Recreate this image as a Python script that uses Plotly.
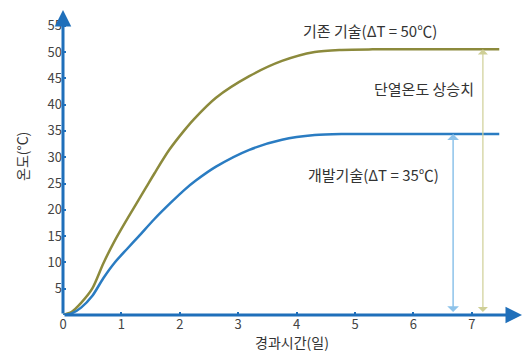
import plotly.graph_objects as go

# ---- data ----
days_existing = [0, 0.15, 0.31, 0.5, 0.69, 0.88, 1.07, 1.28, 1.42, 1.57, 1.82, 2.07, 2.24, 2.62,
                 3.19, 3.75, 4.31, 4.77, 5.3, 6.0, 7.0, 7.47]
temp_existing = [0, 0.6, 2.3, 5.0, 9.8, 14.0, 17.7, 21.6, 24.2, 27.0, 31.4, 35.0, 37.2, 41.3,
                 45.4, 48.3, 50.0, 50.4, 50.5, 50.5, 50.5, 50.5]

days_new = [0, 0.15, 0.31, 0.5, 0.69, 0.88, 1.1, 1.3, 1.57, 1.85, 2.07, 2.28, 2.62,
            3.19, 3.75, 4.31, 4.77, 5.3, 6.0, 7.0, 7.47]
temp_new = [0, 0.3, 1.4, 3.6, 7.0, 9.9, 12.6, 15.0, 18.3, 21.4, 23.7, 25.6, 28.2,
            31.4, 33.3, 34.2, 34.4, 34.4, 34.4, 34.4, 34.4]

x_ticks = [0, 1, 2, 3, 4, 5, 6, 7]
y_ticks = [5, 10, 15, 20, 25, 30, 35, 40, 45, 50, 55]

label_existing = "기존 기술(ΔT = 50℃)"
label_new = "개발기술(ΔT = 35℃)"
label_rise = "단열온도 상승치"
x_title = "경과시간(일)"
y_title = "온도(°C)"

arrow_x_new = 6.68
arrow_x_existing = 7.19
plateau_new = 34.4
plateau_existing = 50.5

# ---- style ----
OLIVE = "#8c8a3c"
BLUE = "#2a7cc2"
AXIS = "#1f6fba"
LIGHT_BLUE = "#8ec3ea"
LIGHT_OLIVE = "#cfcf96"
FONT = "Noto Sans CJK KR"
TXT = "#333333"

W, H = 524, 353
L, R, T, B = 63, 5, 10, 38
PX_X = 58.4
PX_Y = 5.26
xmax = (W - L - R) / PX_X
ymax = (H - T - B) / PX_Y

fig = go.Figure()
fig.add_trace(go.Scatter(x=days_existing, y=temp_existing, mode="lines",
                         line=dict(color=OLIVE, width=2.5, shape="spline", smoothing=0.8),
                         hoverinfo="skip", showlegend=False, cliponaxis=False))
fig.add_trace(go.Scatter(x=days_new, y=temp_new, mode="lines",
                         line=dict(color=BLUE, width=2.5, shape="spline", smoothing=0.8),
                         hoverinfo="skip", showlegend=False, cliponaxis=False))

ann = []
# axes with arrowheads
ann.append(dict(x=(W - 2 - L) / PX_X, y=0, ax=0, ay=0, xref="x", yref="y", axref="x", ayref="y",
                text="", showarrow=True, arrowhead=2, arrowsize=1.1, arrowwidth=3,
                arrowcolor=AXIS, standoff=0))
ann.append(dict(x=0, y=ymax, ax=0, ay=0, xref="x", yref="y", axref="x", ayref="y",
                text="", showarrow=True, arrowhead=2, arrowsize=1.1, arrowwidth=3,
                arrowcolor=AXIS, standoff=0))
# double arrows
ann.append(dict(x=arrow_x_new, y=plateau_new, ax=arrow_x_new, ay=0, xref="x", yref="y",
                axref="x", ayref="y", text="", showarrow=True, arrowhead=1, startarrowhead=1,
                arrowside="end+start", arrowsize=1.3, startarrowsize=1.3, arrowwidth=1.5,
                arrowcolor=LIGHT_BLUE, standoff=0, startstandoff=1.5))
ann.append(dict(x=arrow_x_existing, y=plateau_existing, ax=arrow_x_existing, ay=0, xref="x", yref="y",
                axref="x", ayref="y", text="", showarrow=True, arrowhead=1, startarrowhead=1,
                arrowside="end+start", arrowsize=1.4, startarrowsize=1.4, arrowwidth=1.2,
                arrowcolor=LIGHT_OLIVE, standoff=0, startstandoff=1.5))
# labels
ann.append(dict(x=5.26, y=54.0, xref="x", yref="y", text=label_existing, showarrow=False,
                xanchor="center", yanchor="middle",
                font=dict(family=FONT, size=15, color=TXT)))
ann.append(dict(x=6.18, y=43.0, xref="x", yref="y", text=label_rise, showarrow=False,
                xanchor="center", yanchor="middle",
                font=dict(family=FONT, size=15, color=TXT)))
ann.append(dict(x=5.31, y=26.7, xref="x", yref="y", text=label_new, showarrow=False,
                xanchor="center", yanchor="middle",
                font=dict(family=FONT, size=15, color=TXT)))
# axis titles
ann.append(dict(x=(292 - L) / (W - L - R), y=-(342 - (H - B)) / (H - T - B), xref="paper", yref="paper",
                xanchor="center", yanchor="middle",
                text=x_title, showarrow=False, font=dict(family=FONT, size=14, color=TXT)))
ann.append(dict(x=-(L - 22) / (W - L - R), y=((H - B) - 157) / (H - T - B), xref="paper", yref="paper",
                xanchor="center", yanchor="middle",
                text=y_title, showarrow=False, textangle=-90,
                font=dict(family=FONT, size=14, color=TXT)))

fig.update_layout(
    width=W, height=H, margin=dict(l=L, r=R, t=T, b=B, autoexpand=False),
    paper_bgcolor="white", plot_bgcolor="white",
    annotations=ann,
    xaxis=dict(range=[0, xmax], tickvals=x_ticks, ticktext=[str(v) for v in x_ticks],
               showgrid=False, zeroline=False, showline=False, automargin=False,
               ticks="inside", ticklen=3, tickwidth=1.5, tickcolor=AXIS,
               tickfont=dict(family=FONT, size=13, color="#444444"), fixedrange=True),
    yaxis=dict(range=[0, ymax], tickvals=y_ticks, ticktext=[str(v) for v in y_ticks],
               showgrid=False, zeroline=False, showline=False, automargin=False,
               ticks="inside", ticklen=3, tickwidth=1.5, tickcolor=AXIS,
               tickfont=dict(family=FONT, size=13, color="#444444"), fixedrange=True),
)

fig.write_html("out.html", config={"displayModeBar": False},
               post_script="document.body.style.margin='0';document.body.style.overflow='hidden';")
